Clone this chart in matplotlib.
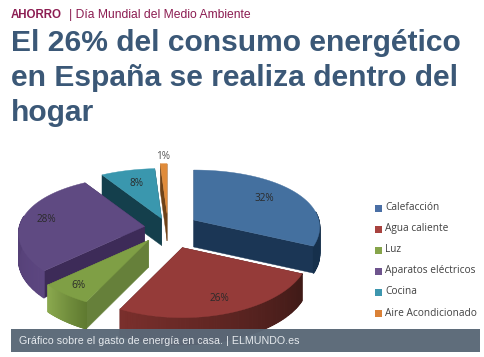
import numpy as np
import matplotlib
matplotlib.use("Agg")
import matplotlib.pyplot as plt
from matplotlib.patches import Polygon, Rectangle
from matplotlib.colors import to_rgb

categories = ["Calefacción", "Agua caliente", "Luz", "Aparatos eléctricos", "Cocina", "Aire Acondicionado"]
values = [32, 26, 6, 28, 8, 1]
explode = [0.25, 0.33, 0.25, 0.19, 0.17, 0.25]
label_r = [0.7, 0.8, 0.85, 0.8, 0.7, 1.2]

top_col = ["#44709f", "#953b39", "#7f9f45", "#5f4a82", "#3a97ae", "#e08b3a"]
cut_col = ["#1b3655", "#4f1f1d", "#66803a", "#3d2b58", "#143f4c", "#6e4218"]
rim_a = ["#1b3655", "#3f1a17", "#5f7a30", "#5c4680", "#143f4c", "#6e4218"]
rim_b = ["#16304c", "#7a2f2c", "#8aa84e", "#4a3768", "#143f4c", "#6e4218"]
legend_col = ["#4a6fa5", "#a8423f", "#86a44a", "#6e548d", "#3d96ae", "#da8137"]

W, H = 485, 357
fig = plt.figure(figsize=(W / 100, H / 100), dpi=100, facecolor="white")
ax = fig.add_axes([0, 0, 1, 1])
ax.set_xlim(0, W)
ax.set_ylim(H, 0)
ax.axis("off")

C = np.array([168.0, 228.0])
DEPTH = 27.0


def proj(r, t):
    u, v = r * np.sin(t), r * np.cos(t)
    return np.stack([125 * u * (1 - 0.12 * v), -60 * v + 10 * v * v], axis=-1)


fracs = np.array(values) / sum(values) * 2 * np.pi
starts = np.concatenate([[0], np.cumsum(fracs)[:-1]])
ends = starts + fracs
mids = (starts + ends) / 2
apex = [C + proj(e, m) for e, m in zip(explode, mids)]


def blend(a, b, f):
    a, b = np.array(to_rgb(a)), np.array(to_rgb(b))
    return tuple(a + (b - a) * f)


for i in [5, 4, 0, 3, 2, 1]:
    A = apex[i]
    ts = np.linspace(starts[i], ends[i], 80)
    arc = A + proj(1.0, ts)
    d = np.array([0, DEPTH])
    for p in (arc[0], arc[-1]):
        ax.add_patch(Polygon([A, p, p + d, A + d], fc=cut_col[i], ec=cut_col[i], lw=0.3, zorder=2))
    for j in range(len(ts) - 1):
        if np.pi / 2 * 0.9 < ts[j] < 1.55 * np.pi:
            f = j / (len(ts) - 2)
            c = blend(rim_a[i], rim_b[i], f)
            ax.add_patch(Polygon([arc[j], arc[j + 1], arc[j + 1] + d, arc[j] + d],
                                 fc=c, ec=c, lw=0.9, joinstyle="round", zorder=2))
    ax.add_patch(Polygon(np.vstack([A, arc]), fc=top_col[i], ec=top_col[i], lw=0.3, zorder=2))
    pos = A + proj(label_r[i], mids[i])
    ax.text(pos[0], pos[1], f"{values[i]}%", ha="center", va="center", fontsize=7.2,
            family="Open Sans", color="#2a2a2a" if i != 5 else "#555555", zorder=3)

# legend
for i, name in enumerate(categories):
    y = 208 + i * 21
    ax.add_patch(Rectangle((375, y - 3.5), 7, 7, fc=legend_col[i], ec="none", zorder=3))
    ax.text(385, y, name, ha="left", va="center", fontsize=7.3, family="Open Sans", color="#404040", zorder=3)

# caption bar
ax.add_patch(Rectangle((11, 329), 469, 23, fc="#5a6877", ec="none", alpha=0.97, zorder=5))
ax.text(19, 340.5, "Gráfico sobre el gasto de energía en casa. | ELMUNDO.es", ha="left", va="center",
        fontsize=7.65, family="Liberation Sans", color="#e6eaee", zorder=6)

# headline
ax.text(11, 18, "AHORRO", fontsize=8.3, family="Liberation Sans", weight="bold", color="#8c1d52")
ax.text(69, 18, "| Día Mundial del Medio Ambiente", fontsize=8.75, family="Liberation Sans", color="#8c1d52")
for txt, y in zip(["El 26% del consumo energético", "en España se realiza dentro del", "hogar"], [51, 86, 121]):
    ax.text(11, y, txt, fontsize=21.6, family="Liberation Sans", weight="bold", color="#3b5877")

fig.savefig("out.png", dpi=100)
